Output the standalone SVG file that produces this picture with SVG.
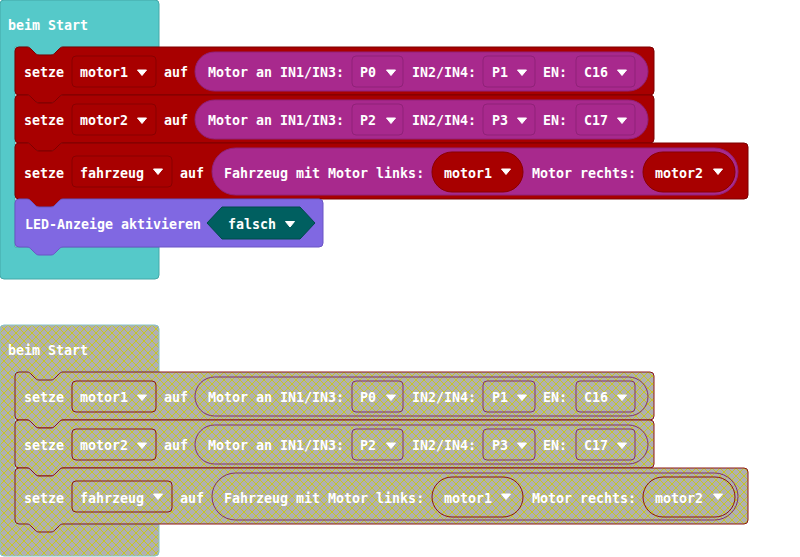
<svg xmlns="http://www.w3.org/2000/svg" xmlns:xlink="http://www.w3.org/1999/xlink" width="800" height="557" viewBox="0 0 800 557">
<style>
.t{font-family:"DejaVu Sans Mono","Liberation Mono",monospace;font-weight:bold;font-size:13.3px;fill:#fff}
.hat{fill:#55c9c9;stroke:#44a8a8;stroke-width:1}
.red{fill:#a80000;stroke:#7d0000;stroke-width:1}
.fr{fill:#a80000;stroke:#880000;stroke-width:1}
.pill{fill:#a8298d;stroke:#8f2278;stroke-width:1}
.fp{fill:#a8298d;stroke:#8f2278;stroke-width:1}
.led{fill:#8068e2;stroke:#6b55c5;stroke-width:1}
.hex{fill:#005f60;stroke:#004a4b;stroke-width:1}
.dis .hat{fill:url(#dp);stroke:#86c3ca}
.dis .red,.dis .fr{fill:url(#dp);stroke:#8a1414}
.dis .pill,.dis .fp{fill:url(#dp);stroke:#80306f}
</style>
<defs>
<pattern id="dp" patternUnits="userSpaceOnUse" width="8" height="8">
<rect width="8" height="8" fill="#b0b0b0"/>
<path d="M0,0 L8,8 M8,0 L0,8" stroke="#cccc00" stroke-width="0.8"/>
</pattern>
<path id="arr" d="M0.5,0.5 h9 l-4.5,5.5 z" fill="#fff" stroke="#fff" stroke-width="1" stroke-linejoin="round"/>
</defs>

<!-- ===== Active program ===== -->
<g id="active">
<g id="hat1">
<path class="hat" d="M0,4 a4,4 0 0 1 4,-4 H155 a4,4 0 0 1 4,4 V47 H63 c-2,0 -3,1 -4,2 l-4,4 c-1,1 -2,2 -4,2 h-12 c-2,0 -3,-1 -4,-2 l-4,-4 c-1,-1 -2,-2 -4,-2 H15 V247 H159 V275 a4,4 0 0 1 -4,4 H4 a4,4 0 0 1 -4,-4 Z"/>
<text class="t" x="8" y="30">beim Start</text>
</g>

<g id="set-motor1" transform="translate(0,47)">
<path class="red" d="M15,4 a4,4 0 0 1 4,-4 H27 c2,0 3,1 4,2 l4,4 c1,1 2,2 4,2 h12 c2,0 3,-1 4,-2 l4,-4 c1,-1 2,-2 4,-2 H650 a4,4 0 0 1 4,4 V44 a4,4 0 0 1 -4,4 H63 c-2,0 -3,1 -4,2 l-4,4 c-1,1 -2,2 -4,2 h-12 c-2,0 -3,-1 -4,-2 l-4,-4 c-1,-1 -2,-2 -4,-2 H19 a4,4 0 0 1 -4,-4 Z"/>
<text class="t" x="24" y="30">setze</text>
<rect class="fr" x="72" y="9" width="84" height="31" rx="4"/>
<text class="t" x="80" y="30">motor1</text>
<use href="#arr" x="137" y="22.5"/>
<text class="t" x="164" y="30">auf</text>
<rect class="pill" x="195" y="5" width="453" height="39" rx="19.5"/>
<text class="t" x="208" y="30">Motor an IN1/IN3:</text>
<rect class="fp" x="352" y="9" width="51" height="31" rx="4"/>
<text class="t" x="360" y="30">P0</text>
<use href="#arr" x="386" y="22.5"/>
<text class="t" x="412" y="30">IN2/IN4:</text>
<rect class="fp" x="483" y="9" width="52" height="31" rx="4"/>
<text class="t" x="492" y="30">P1</text>
<use href="#arr" x="517" y="22.5"/>
<text class="t" x="543" y="30">EN:</text>
<rect class="fp" x="576" y="9" width="59" height="31" rx="4"/>
<text class="t" x="584" y="30">C16</text>
<use href="#arr" x="617" y="22.5"/>
</g>

<g id="set-motor2" transform="translate(0,95)">
<path class="red" d="M15,4 a4,4 0 0 1 4,-4 H27 c2,0 3,1 4,2 l4,4 c1,1 2,2 4,2 h12 c2,0 3,-1 4,-2 l4,-4 c1,-1 2,-2 4,-2 H650 a4,4 0 0 1 4,4 V44 a4,4 0 0 1 -4,4 H63 c-2,0 -3,1 -4,2 l-4,4 c-1,1 -2,2 -4,2 h-12 c-2,0 -3,-1 -4,-2 l-4,-4 c-1,-1 -2,-2 -4,-2 H19 a4,4 0 0 1 -4,-4 Z"/>
<text class="t" x="24" y="30">setze</text>
<rect class="fr" x="72" y="9" width="84" height="31" rx="4"/>
<text class="t" x="80" y="30">motor2</text>
<use href="#arr" x="137" y="22.5"/>
<text class="t" x="164" y="30">auf</text>
<rect class="pill" x="195" y="5" width="453" height="39" rx="19.5"/>
<text class="t" x="208" y="30">Motor an IN1/IN3:</text>
<rect class="fp" x="352" y="9" width="51" height="31" rx="4"/>
<text class="t" x="360" y="30">P2</text>
<use href="#arr" x="386" y="22.5"/>
<text class="t" x="412" y="30">IN2/IN4:</text>
<rect class="fp" x="483" y="9" width="52" height="31" rx="4"/>
<text class="t" x="492" y="30">P3</text>
<use href="#arr" x="517" y="22.5"/>
<text class="t" x="543" y="30">EN:</text>
<rect class="fp" x="576" y="9" width="59" height="31" rx="4"/>
<text class="t" x="584" y="30">C17</text>
<use href="#arr" x="617" y="22.5"/>
</g>

<g id="set-fahrzeug" transform="translate(0,143)">
<path class="red" d="M15,4 a4,4 0 0 1 4,-4 H27 c2,0 3,1 4,2 l4,4 c1,1 2,2 4,2 h12 c2,0 3,-1 4,-2 l4,-4 c1,-1 2,-2 4,-2 H744 a4,4 0 0 1 4,4 V52 a4,4 0 0 1 -4,4 H63 c-2,0 -3,1 -4,2 l-4,4 c-1,1 -2,2 -4,2 h-12 c-2,0 -3,-1 -4,-2 l-4,-4 c-1,-1 -2,-2 -4,-2 H19 a4,4 0 0 1 -4,-4 Z"/>
<text class="t" x="24" y="35">setze</text>
<rect class="fr" x="72" y="13" width="100" height="31" rx="4"/>
<text class="t" x="80" y="35">fahrzeug</text>
<use href="#arr" x="153" y="25.5"/>
<text class="t" x="180" y="35">auf</text>
<rect class="pill" x="212" y="5" width="526" height="47" rx="23.5"/>
<text class="t" x="224" y="35">Fahrzeug mit Motor links:</text>
<rect class="fr" x="432" y="9" width="91" height="40" rx="20"/>
<text class="t" x="444" y="35">motor1</text>
<use href="#arr" x="501" y="25.5"/>
<text class="t" x="532" y="35">Motor rechts:</text>
<rect class="fr" x="643" y="9" width="92" height="40" rx="20"/>
<text class="t" x="655" y="35">motor2</text>
<use href="#arr" x="713" y="25.5"/>
</g>

<g id="led-enable" transform="translate(0,199)">
<path class="led" d="M15,4 a4,4 0 0 1 4,-4 H27 c2,0 3,1 4,2 l4,4 c1,1 2,2 4,2 h12 c2,0 3,-1 4,-2 l4,-4 c1,-1 2,-2 4,-2 H319 a4,4 0 0 1 4,4 V44 a4,4 0 0 1 -4,4 H63 c-2,0 -3,1 -4,2 l-4,4 c-1,1 -2,2 -4,2 h-12 c-2,0 -3,-1 -4,-2 l-4,-4 c-1,-1 -2,-2 -4,-2 H19 a4,4 0 0 1 -4,-4 Z"/>
<text class="t" x="25" y="30">LED-Anzeige aktivieren</text>
<path class="hex" d="M207,24 L222,8 H300 L315,24 L300,40 H222 Z"/>
<text class="t" x="228" y="30">falsch</text>
<use href="#arr" x="285" y="22"/>
</g>
</g>

<!-- ===== Disabled copy ===== -->
<g id="disabled" class="dis" transform="translate(0,325)">
<g id="hat2">
<path class="hat" d="M0,4 a4,4 0 0 1 4,-4 H155 a4,4 0 0 1 4,4 V47 H63 c-2,0 -3,1 -4,2 l-4,4 c-1,1 -2,2 -4,2 h-12 c-2,0 -3,-1 -4,-2 l-4,-4 c-1,-1 -2,-2 -4,-2 H15 V199 H159 V227 a4,4 0 0 1 -4,4 H4 a4,4 0 0 1 -4,-4 Z"/>
<text class="t" x="8" y="30">beim Start</text>
</g>

<g id="d-set-motor1" transform="translate(0,47)">
<path class="red" d="M15,4 a4,4 0 0 1 4,-4 H27 c2,0 3,1 4,2 l4,4 c1,1 2,2 4,2 h12 c2,0 3,-1 4,-2 l4,-4 c1,-1 2,-2 4,-2 H650 a4,4 0 0 1 4,4 V44 a4,4 0 0 1 -4,4 H63 c-2,0 -3,1 -4,2 l-4,4 c-1,1 -2,2 -4,2 h-12 c-2,0 -3,-1 -4,-2 l-4,-4 c-1,-1 -2,-2 -4,-2 H19 a4,4 0 0 1 -4,-4 Z"/>
<text class="t" x="24" y="30">setze</text>
<rect class="fr" x="72" y="9" width="84" height="31" rx="4"/>
<text class="t" x="80" y="30">motor1</text>
<use href="#arr" x="137" y="22.5"/>
<text class="t" x="164" y="30">auf</text>
<rect class="pill" x="195" y="5" width="453" height="39" rx="19.5"/>
<text class="t" x="208" y="30">Motor an IN1/IN3:</text>
<rect class="fp" x="352" y="9" width="51" height="31" rx="4"/>
<text class="t" x="360" y="30">P0</text>
<use href="#arr" x="386" y="22.5"/>
<text class="t" x="412" y="30">IN2/IN4:</text>
<rect class="fp" x="483" y="9" width="52" height="31" rx="4"/>
<text class="t" x="492" y="30">P1</text>
<use href="#arr" x="517" y="22.5"/>
<text class="t" x="543" y="30">EN:</text>
<rect class="fp" x="576" y="9" width="59" height="31" rx="4"/>
<text class="t" x="584" y="30">C16</text>
<use href="#arr" x="617" y="22.5"/>
</g>

<g id="d-set-motor2" transform="translate(0,95)">
<path class="red" d="M15,4 a4,4 0 0 1 4,-4 H27 c2,0 3,1 4,2 l4,4 c1,1 2,2 4,2 h12 c2,0 3,-1 4,-2 l4,-4 c1,-1 2,-2 4,-2 H650 a4,4 0 0 1 4,4 V44 a4,4 0 0 1 -4,4 H63 c-2,0 -3,1 -4,2 l-4,4 c-1,1 -2,2 -4,2 h-12 c-2,0 -3,-1 -4,-2 l-4,-4 c-1,-1 -2,-2 -4,-2 H19 a4,4 0 0 1 -4,-4 Z"/>
<text class="t" x="24" y="30">setze</text>
<rect class="fr" x="72" y="9" width="84" height="31" rx="4"/>
<text class="t" x="80" y="30">motor2</text>
<use href="#arr" x="137" y="22.5"/>
<text class="t" x="164" y="30">auf</text>
<rect class="pill" x="195" y="5" width="453" height="39" rx="19.5"/>
<text class="t" x="208" y="30">Motor an IN1/IN3:</text>
<rect class="fp" x="352" y="9" width="51" height="31" rx="4"/>
<text class="t" x="360" y="30">P2</text>
<use href="#arr" x="386" y="22.5"/>
<text class="t" x="412" y="30">IN2/IN4:</text>
<rect class="fp" x="483" y="9" width="52" height="31" rx="4"/>
<text class="t" x="492" y="30">P3</text>
<use href="#arr" x="517" y="22.5"/>
<text class="t" x="543" y="30">EN:</text>
<rect class="fp" x="576" y="9" width="59" height="31" rx="4"/>
<text class="t" x="584" y="30">C17</text>
<use href="#arr" x="617" y="22.5"/>
</g>

<g id="d-set-fahrzeug" transform="translate(0,143)">
<path class="red" d="M15,4 a4,4 0 0 1 4,-4 H27 c2,0 3,1 4,2 l4,4 c1,1 2,2 4,2 h12 c2,0 3,-1 4,-2 l4,-4 c1,-1 2,-2 4,-2 H744 a4,4 0 0 1 4,4 V52 a4,4 0 0 1 -4,4 H63 c-2,0 -3,1 -4,2 l-4,4 c-1,1 -2,2 -4,2 h-12 c-2,0 -3,-1 -4,-2 l-4,-4 c-1,-1 -2,-2 -4,-2 H19 a4,4 0 0 1 -4,-4 Z"/>
<text class="t" x="24" y="35">setze</text>
<rect class="fr" x="72" y="13" width="100" height="31" rx="4"/>
<text class="t" x="80" y="35">fahrzeug</text>
<use href="#arr" x="153" y="25.5"/>
<text class="t" x="180" y="35">auf</text>
<rect class="pill" x="212" y="5" width="526" height="47" rx="23.5"/>
<text class="t" x="224" y="35">Fahrzeug mit Motor links:</text>
<rect class="fr" x="432" y="9" width="91" height="40" rx="20"/>
<text class="t" x="444" y="35">motor1</text>
<use href="#arr" x="501" y="25.5"/>
<text class="t" x="532" y="35">Motor rechts:</text>
<rect class="fr" x="643" y="9" width="92" height="40" rx="20"/>
<text class="t" x="655" y="35">motor2</text>
<use href="#arr" x="713" y="25.5"/>
</g>
</g>
</svg>
